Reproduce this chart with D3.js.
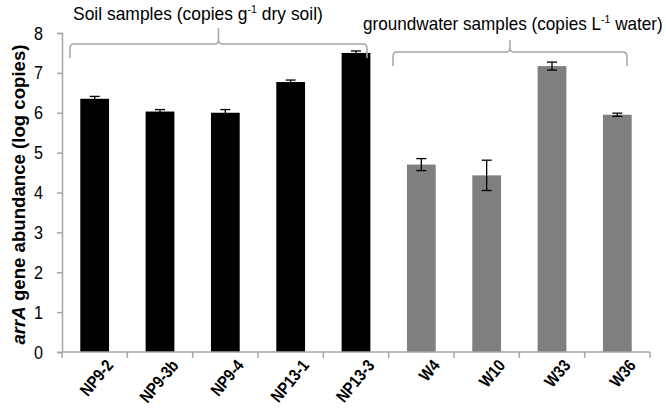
<!DOCTYPE html>
<html>
<head>
  <script src="https://d3js.org/d3.v7.min.js"></script>
  <style>
    body { margin: 0; background: white; font-family: 'Liberation Sans', Arial, sans-serif; }
  </style>
</head>
<body>
  <svg id="chart" width="666" height="410"></svg>
  <script>
    const samples = ["NP9-2", "NP9-3b", "NP9-4", "NP13-1", "NP13-3", "W4", "W10", "W33", "W36"];
    const abundance = [6.35, 6.03, 6.0, 6.77, 7.5, 4.7, 4.43, 7.17, 5.95];
    const errors = [0.06, 0.05, 0.08, 0.05, 0.05, 0.15, 0.38, 0.1, 0.04];
    const groups = ["soil", "soil", "soil", "soil", "soil", "water", "water", "water", "water"];
    const yTicks = [0, 1, 2, 3, 4, 5, 6, 7, 8];

    const svg = d3.select("#chart");
    const margin = { left: 62, right: 16, top: 33, bottom: 58 };
    const W = 666, H = 410;

    const x = d3.scaleBand().domain(samples).range([margin.left, W - margin.right]).paddingInner(0.56).paddingOuter(0.28);
    const y = d3.scaleLinear().domain([0, 8]).range([H - margin.bottom, margin.top]);
    const color = { soil: "#000000", water: "#7f7f7f" };
    const axisColor = "#a6a6a6";

    // bars
    svg.selectAll("rect.bar")
      .data(samples)
      .join("rect")
      .attr("class", "bar")
      .attr("x", d => x(d))
      .attr("width", x.bandwidth())
      .attr("y", (d, i) => y(abundance[i]))
      .attr("height", (d, i) => y(0) - y(abundance[i]))
      .attr("fill", (d, i) => color[groups[i]]);

    // error bars
    const eb = svg.append("g").attr("stroke", "#000").attr("stroke-width", 1.3);
    samples.forEach((s, i) => {
      const cx = x(s) + x.bandwidth() / 2;
      const top = y(abundance[i] + errors[i]), bot = y(abundance[i] - errors[i]);
      eb.append("line").attr("x1", cx).attr("x2", cx).attr("y1", top).attr("y2", bot);
      eb.append("line").attr("x1", cx - 5).attr("x2", cx + 5).attr("y1", top).attr("y2", top);
      eb.append("line").attr("x1", cx - 5).attr("x2", cx + 5).attr("y1", bot).attr("y2", bot);
    });

    // y axis
    const yAxis = svg.append("g")
      .attr("transform", `translate(${margin.left},0)`)
      .call(d3.axisLeft(y).tickValues(yTicks).tickSize(5).tickPadding(14).tickFormat(d3.format("d")));
    yAxis.select(".domain").attr("stroke", axisColor).attr("stroke-width", 1.5);
    yAxis.selectAll(".tick line").attr("stroke", axisColor).attr("stroke-width", 1.5);
    yAxis.selectAll(".tick text").attr("font-size", 19).attr("fill", "#000")
      .attr("font-family", "'Liberation Sans', Arial, sans-serif")
      .attr("transform", "scale(0.85,1)").attr("x", -19 / 0.85);

    // x axis with ticks between categories
    const xg = svg.append("g").attr("transform", `translate(0,${y(0)})`);
    xg.append("line").attr("x1", margin.left).attr("x2", W - margin.right)
      .attr("stroke", axisColor).attr("stroke-width", 1.5);
    d3.range(samples.length + 1).forEach(k => {
      const tx = margin.left + k * (W - margin.right - margin.left) / samples.length;
      xg.append("line").attr("x1", tx).attr("x2", tx).attr("y1", 0).attr("y2", 6)
        .attr("stroke", axisColor).attr("stroke-width", 1.5);
    });
    const lab = xg.selectAll("g.xl")
      .data(samples)
      .join("g")
      .attr("class", "xl")
      .attr("transform", d => `translate(${x(d) + x.bandwidth() / 2 + 10},6)`);
    lab.append("g").attr("transform", "rotate(-50) scale(0.85,1)")
      .append("text")
      .attr("text-anchor", "end")
      .attr("dy", "0.72em")
      .attr("font-size", 17)
      .attr("font-weight", "bold")
      .text(d => d);

    // y label
    const yl = svg.append("text")
      .attr("transform", `translate(25,${(y(0) + y(8)) / 2 + 2}) rotate(-90)`)
      .attr("text-anchor", "middle")
      .attr("font-size", 19)
      .attr("font-weight", "bold")
      .attr("textLength", 300)
      .attr("lengthAdjust", "spacingAndGlyphs");
    yl.append("tspan").attr("font-style", "italic").text("arrA");
    yl.append("tspan").text(" gene abundance (log copies)");

    // group brackets
    function bracket(x0, x1, yTop, yPeak, yEnd) {
      const mid = (x0 + x1) / 2;
      const r = 4;
      const p = d3.path();
      p.moveTo(x0, yEnd);
      p.lineTo(x0, yTop + r);
      p.quadraticCurveTo(x0, yTop, x0 + r, yTop);
      p.lineTo(mid - r, yTop);
      p.quadraticCurveTo(mid, yTop, mid, yTop - r);
      p.lineTo(mid, yPeak);
      p.moveTo(mid, yTop - r);
      p.quadraticCurveTo(mid, yTop, mid + r, yTop);
      p.lineTo(x1 - r, yTop);
      p.quadraticCurveTo(x1, yTop, x1, yTop + r);
      p.lineTo(x1, yEnd);
      svg.append("path").attr("d", p.toString()).attr("fill", "none")
        .attr("stroke", "#a6a6a6").attr("stroke-width", 1.5);
    }
    bracket(70, 367, 44, 28, 58);
    bracket(393, 627, 52, 40, 66);

    // group titles, squeezed horizontally to the reference width
    const gtxt = (cx, ty, len, before, sup, after) => {
      const g = svg.append("g").attr("transform", `translate(${cx},${ty})`);
      const t = g.append("text").attr("font-size", 18);
      t.append("tspan").text(before);
      t.append("tspan").attr("font-size", 11).attr("dy", -7).text(sup);
      t.append("tspan").attr("dy", 7).text(after);
      const w = t.node().getComputedTextLength();
      t.attr("transform", `scale(${len / w},1)`).attr("x", -w / 2);
    };
    gtxt(198, 20, 250, "Soil samples (copies g", "-1", " dry soil)");
    gtxt(513, 30, 300, "groundwater samples (copies L", "-1", " water)");
  </script>
</body>
</html>
